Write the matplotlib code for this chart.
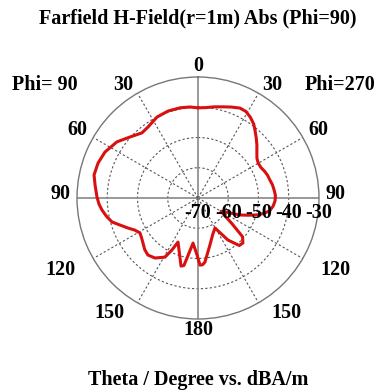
import numpy as np
import matplotlib
matplotlib.use('Agg')
import matplotlib.pyplot as plt
from matplotlib.transforms import offset_copy

# H-field pattern, theta measured clockwise from the top (0..360 deg)
theta_deg = [0, 5, 10, 15, 20, 25, 29, 33, 37, 40, 44, 48, 52, 56, 60, 64, 68,
             72, 76, 80, 84, 88, 92, 96, 100, 103, 106, 109, 112, 115, 120,
             124, 127, 131, 135, 139, 144.5, 150.5, 158, 165.7, 173.8, 176,
             178.3, 181, 186.3, 190.4, 191.8, 194, 196.7, 204.4, 206.6, 209.2,
             215.6, 221.3, 226, 230.7, 235, 238.9, 243, 246.8, 250.9, 254.4,
             258.5, 262.9, 266.5, 270.6, 277.2, 282.5, 289.3, 296.3, 304.7,
             311.9, 319.3, 324.8, 333.2, 341, 348.7, 355, 360]
h_db = [-40.2, -40.0, -39.4, -38.8, -38.0, -37.2, -37.3, -38.2, -39.4, -40.7,
        -42.3, -43.8, -45.3, -46.5, -47.0, -46.9, -46.3, -45.8, -45.5, -45.0,
        -44.7, -44.4, -44.5, -45.0, -45.9, -47.5, -49.7, -52.5, -55.0, -58.3,
        -61.2, -59.0, -56.0, -50.5, -49.0, -49.2, -52.9, -58.6, -57.0, -54.0,
        -48.7, -47.9, -47.8, -51.2, -55.0, -49.8, -47.2, -46.8, -49.3, -54.0,
        -50.8, -47.6, -45.6, -44.9, -45.5, -46.5, -47.2, -47.6, -46.6, -44.8,
        -42.7, -40.5, -39.2, -38.0, -37.2, -36.6, -35.7, -34.8, -35.0, -35.7,
        -37.4, -39.8, -41.6, -41.3, -40.0, -39.6, -39.6, -39.8, -40.2]

r_ticks = [-70, -60, -50, -40, -30]
theta_labels = ['0', '30', '60', '90', '120', '150', '180']

fig = plt.figure(figsize=(3.86, 3.90), dpi=100)
ax = fig.add_axes([77 / 386, 71 / 390, 242 / 386, 242 / 390], projection='polar')
ax.set_theta_zero_location('N')
ax.set_theta_direction(-1)
ax.set_ylim(-70, -30)
ax.grid(False)
ax.set_xticks([])
ax.set_yticks([])
ax.spines['polar'].set_color('#777777')
ax.spines['polar'].set_linewidth(1.0)

full = np.linspace(0, 2 * np.pi, 361)
for r in r_ticks[1:-1]:
    ax.plot(full, np.full_like(full, r), ls=(0, (2, 2)), color='#555555', lw=0.8)
for a in range(0, 360, 30):
    t = np.deg2rad(a)
    if a % 90 == 0:
        ax.plot([t, t], [-70, -30], color='#888888', lw=1.2)
    else:
        ax.plot([t, t], [-70, -30], ls=(0, (2, 2)), color='#555555', lw=0.8)

ax.plot(np.deg2rad(theta_deg), h_db, color='#d81010', lw=2.2, zorder=3,
        solid_joinstyle='round', solid_capstyle='round')

font = dict(family='Liberation Serif', weight='bold', size=14.5)

# radial labels along the right horizontal axis
below = offset_copy(ax.transData, fig=fig, x=0, y=-15, units='dots')
for r in r_ticks:
    ax.text(np.pi / 2, r, str(r), transform=below, ha='center', va='center',
            zorder=4, **font)

# theta labels on both halves (pixel radius from centre)
lab_ang = [0, 33.4, 60.6, 88.5, 117.6, 142.4, 180]
lab_rad = [132, 135, 138, 137.5, 155, 145, 132]
for lab, a, rp in zip(theta_labels, lab_ang, lab_rad):
    r = -70 + rp * 40 / 121
    ax.text(np.deg2rad(a), r, lab, ha='center', va='center', **font)
    if 0 < a < 180:
        ax.text(np.deg2rad(360 - a), r, lab, ha='center', va='center', **font)

fig.text(45 / 386, 1 - 85 / 390, 'Phi= 90', ha='center', va='center', **font)
fig.text(340 / 386, 1 - 85 / 390, 'Phi=270', ha='center', va='center', **font)
fig.text(198 / 386, 1 - 18 / 390, 'Farfield H-Field(r=1m) Abs (Phi=90)',
         ha='center', va='center', **font)
fig.text(198 / 386, 1 - 380 / 390, 'Theta / Degree vs. dBA/m',
         ha='center', va='center', **font)

fig.savefig('out.png', dpi=100, facecolor='white')
